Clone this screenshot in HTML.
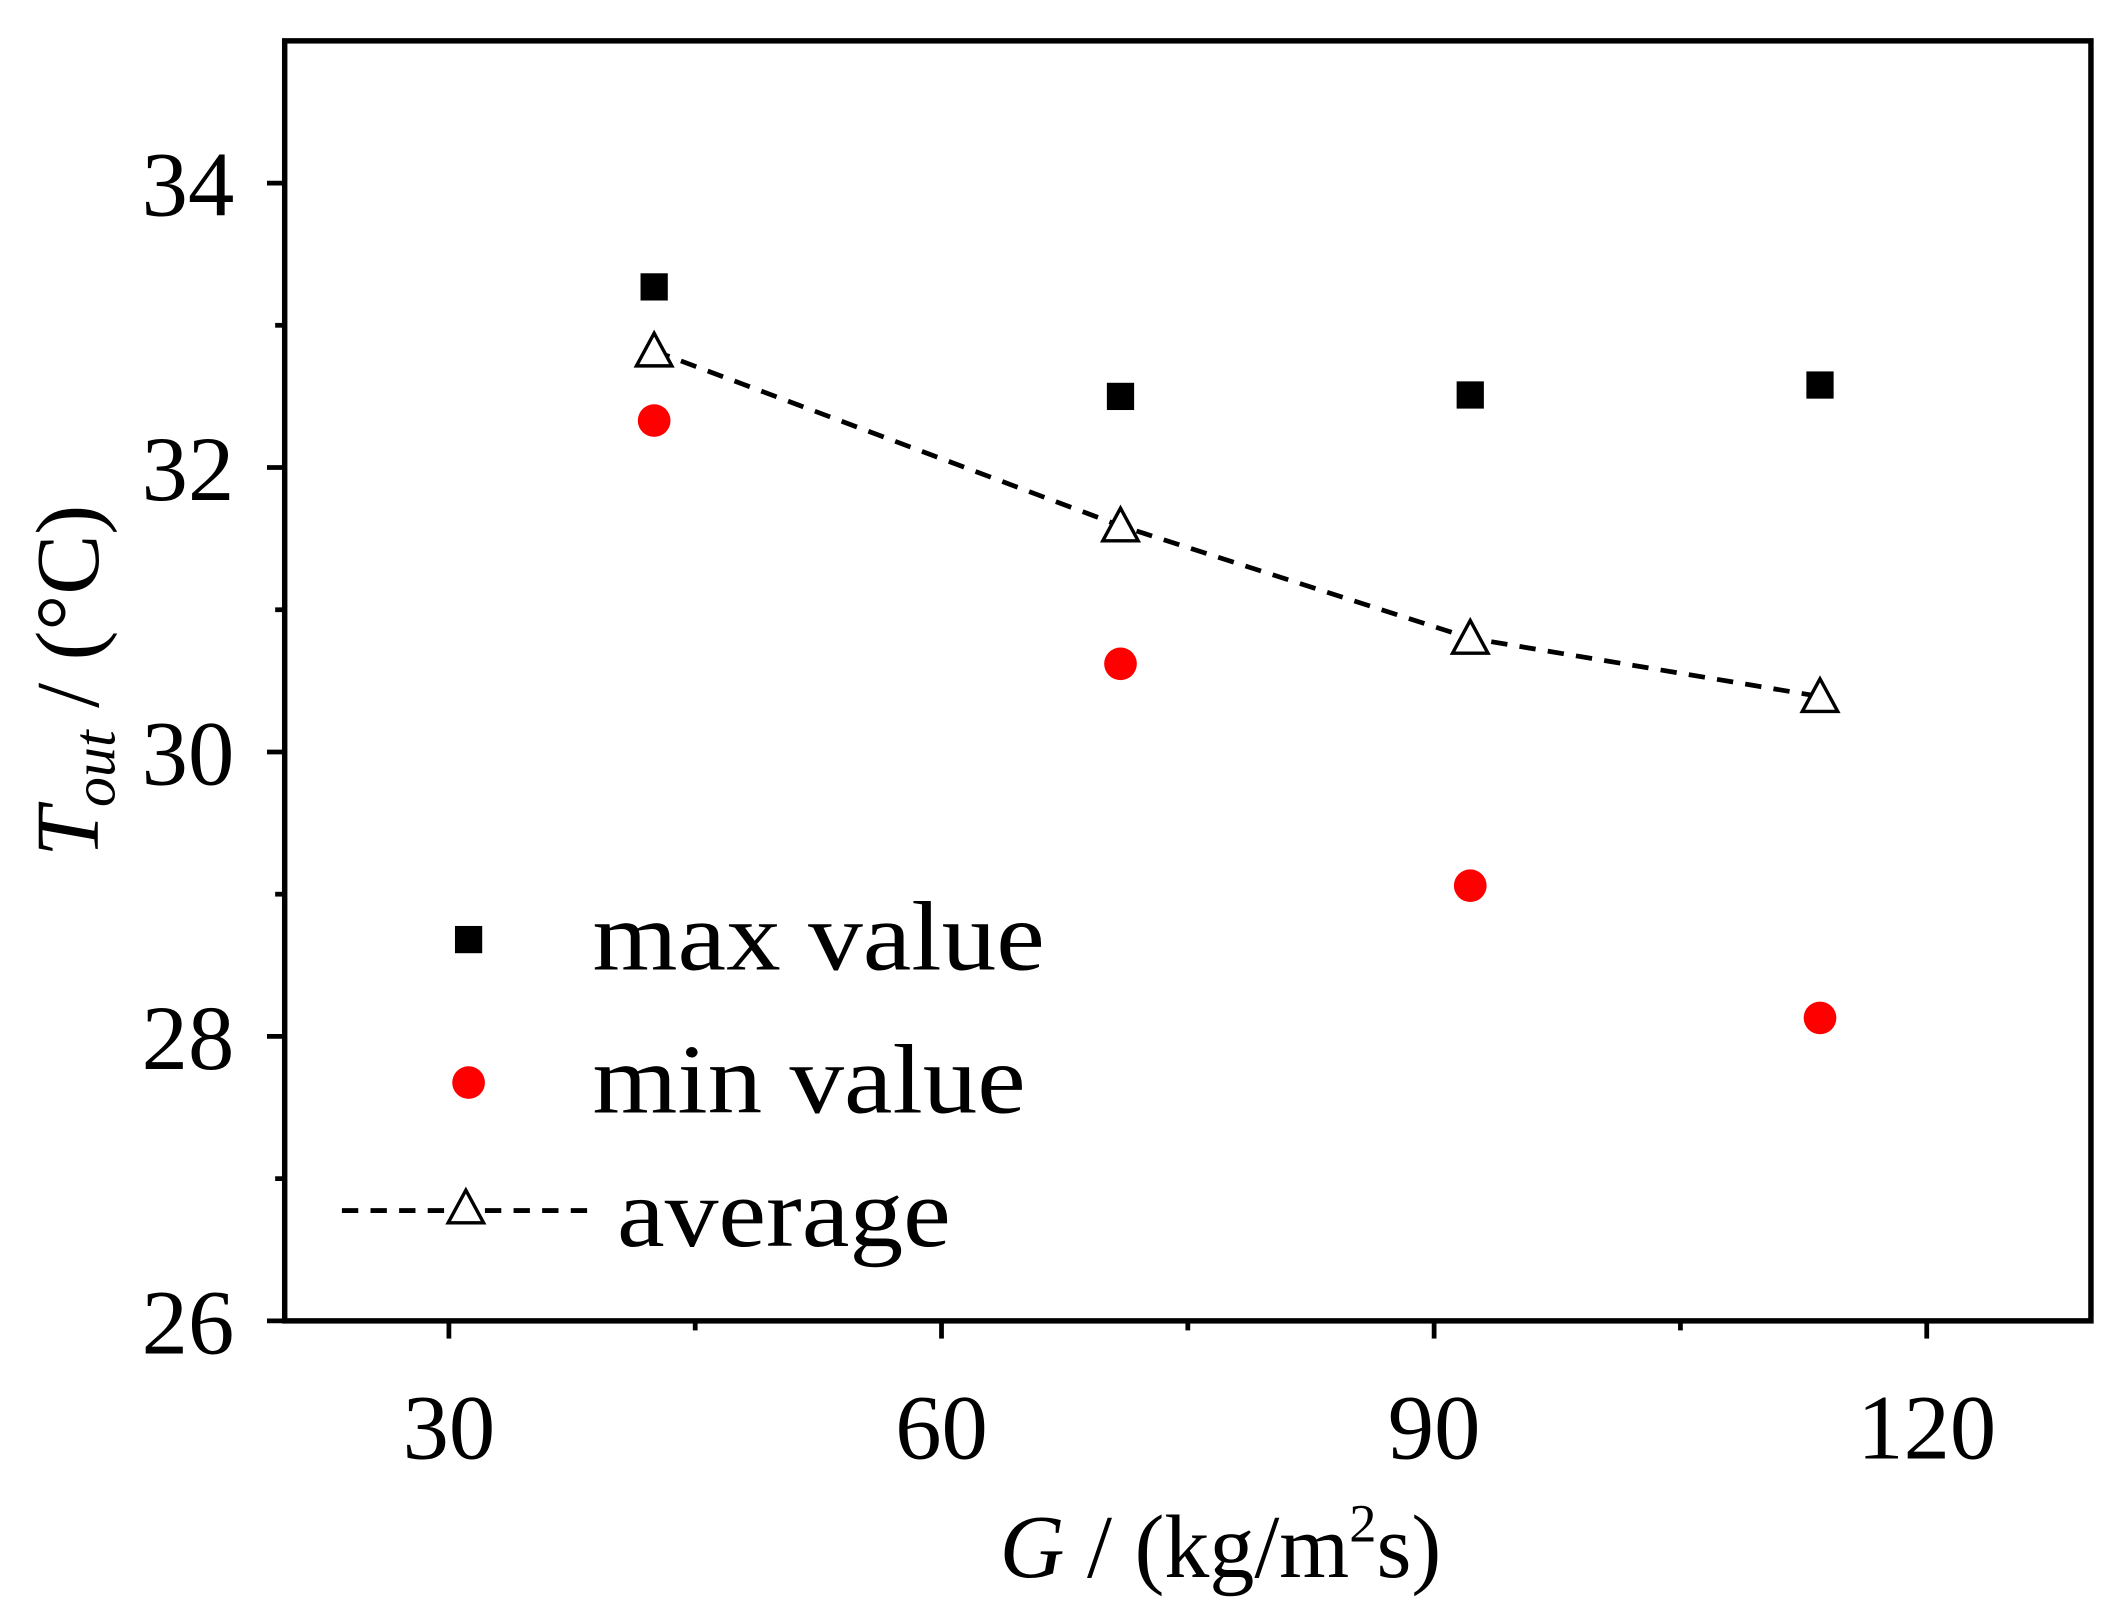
<!DOCTYPE html>
<html><head><meta charset="utf-8"><style>
html,body{margin:0;padding:0;background:#fff;}
svg{display:block;}
text{font-family:"Liberation Serif","Times New Roman",serif;fill:#000;}
</style></head>
<body>
<svg id="chart" width="2125" height="1615" viewBox="0 0 1560 1186" preserveAspectRatio="none" xmlns="http://www.w3.org/2000/svg">
<g id="axes"></g>
<g id="marks"></g>
<g id="legend">
  <rect x="334" y="680" width="20" height="20" fill="#000"/>
  <text x="435" y="712" font-size="72" textLength="332" lengthAdjust="spacingAndGlyphs">max value</text>
  <circle cx="344" cy="795" r="12" fill="#ff0000"/>
  <text x="435" y="817" font-size="72" textLength="318" lengthAdjust="spacingAndGlyphs">min value</text>
  <line x1="251" y1="889" x2="432" y2="889" stroke="#000" stroke-width="3.5" stroke-dasharray="12,9"/>
  <polygon points="342,874 329,898 355,898" fill="#fff" stroke="#000" stroke-width="2.5"/>
  <text x="453" y="915" font-size="72" textLength="245" lengthAdjust="spacingAndGlyphs">average</text>
</g>
<text transform="translate(72,500) rotate(-90)" text-anchor="middle" font-size="66"><tspan font-style="italic">T</tspan><tspan font-style="italic" font-size="44" dy="12">out</tspan><tspan dy="-12"> / (°C)</tspan></text>
<text x="896" y="1158" text-anchor="middle" font-size="66"><tspan font-style="italic">G</tspan> / (kg/m<tspan font-size="40" dy="-26">2</tspan><tspan dy="26">s)</tspan></text>
</svg>
<script>
const categories = [42.5, 70.9, 92.2, 113.5];
const maxValues = [33.27, 32.50, 32.51, 32.58];
const minValues = [32.33, 30.62, 29.06, 28.13];
const avgValues = [32.82, 31.59, 30.80, 30.39];
const xTicks = [30, 60, 90, 120];
const xMinorTicks = [45, 75, 105];
const yTicks = [26, 28, 30, 32, 34];
const yMinorTicks = [27, 29, 31, 33];

const NS = "http://www.w3.org/2000/svg";
const L = 209, R = 1535, T = 30, B = 970;
const X0 = 20, X1 = 130, Y0 = 26, Y1 = 35;
function xs(v){ return L + (v - X0) / (X1 - X0) * (R - L); }
function ys(v){ return B - (v - Y0) / (Y1 - Y0) * (B - T); }
function mk(tag, attrs, parent){
  const e = document.createElementNS(NS, tag);
  for (const k in attrs) e.setAttribute(k, attrs[k]);
  parent.appendChild(e);
  return e;
}
const axes = document.getElementById('axes');
const marks = document.getElementById('marks');

let frame = mk('rect', {x:L, y:T, width:R-L, height:B-T, fill:'none', stroke:'#000', 'stroke-width':4}, axes);



xTicks.forEach(v => {
  const t = mk('line', {x1:xs(v), x2:xs(v), y1:B, y2:B+13, stroke:'#000', 'stroke-width':3.5}, axes);
  
  
  const lb = mk('text', {x:xs(v), y:B+101, 'text-anchor':'middle', 'font-size':68}, axes);
  
  
  lb.textContent = v;
});
xMinorTicks.forEach(v => {
  const t = mk('line', {x1:xs(v), x2:xs(v), y1:B, y2:B+7, stroke:'#000', 'stroke-width':3.5}, axes);
  
  
});
yTicks.forEach(v => {
  const t = mk('line', {x1:L-13, x2:L, y1:ys(v), y2:ys(v), stroke:'#000', 'stroke-width':3.5}, axes);
  
  
  const lb = mk('text', {x:L-37, y:ys(v)+24, 'text-anchor':'end', 'font-size':68}, axes);
  
  
  lb.textContent = v;
});
yMinorTicks.forEach(v => {
  const t = mk('line', {x1:L-7, x2:L, y1:ys(v), y2:ys(v), stroke:'#000', 'stroke-width':3.5}, axes);
  
  
});

const line = mk('polyline', {points: categories.map((c,i)=>xs(c)+','+ys(avgValues[i])).join(' '), fill:'none', stroke:'#000', 'stroke-width':3.5, 'stroke-dasharray':'12,9'}, marks);



categories.forEach((c,i) => {
  const s = mk('rect', {x:xs(c)-10, y:ys(maxValues[i])-10, width:20, height:20, fill:'#000'}, marks);
  
  
  const d = mk('circle', {cx:xs(c), cy:ys(minValues[i]), r:12, fill:'#ff0000'}, marks);
  
  
  const x = xs(c), y = ys(avgValues[i]);
  const tr = mk('polygon', {points:`${x},${y-13} ${x-13},${y+11} ${x+13},${y+11}`, fill:'#fff', stroke:'#000', 'stroke-width':2.5}, marks);
  
  
});
</script>
</body></html>
